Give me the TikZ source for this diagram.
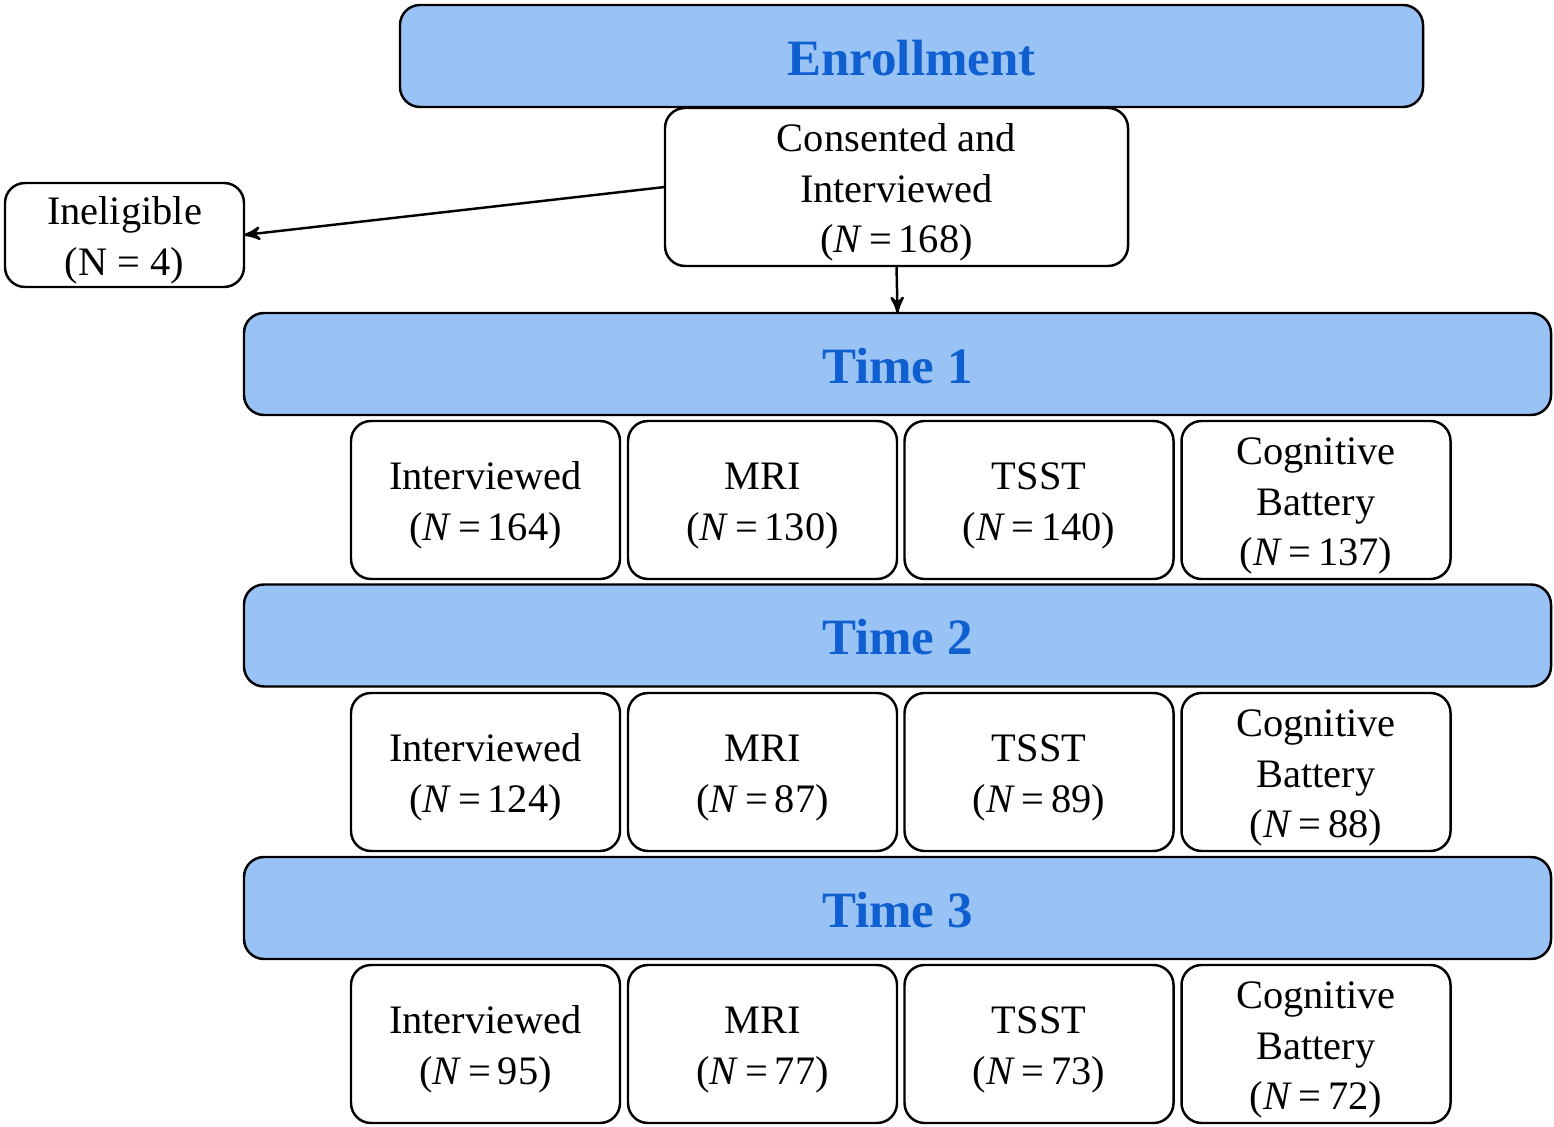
\documentclass[tikz,border=0pt]{standalone}
\usepackage{fontspec}
\setmainfont{Liberation Serif}
\usetikzlibrary{arrows}

\definecolor{barblue}{HTML}{98C3F4}
\definecolor{titleblue}{HTML}{0F5FD0}
\newcommand{\nval}[1]{(\textit{N}\,=\,#1)}
\newcommand{\topstrut}{\rule{0pt}{11pt}}

\begin{document}
\begin{tikzpicture}[>=stealth',line width=0.7pt,
                    every node/.style={font=\fontsize{11.5}{14.3}\selectfont,align=center,inner sep=0pt,outer sep=0pt},
                    bar node/.style={rectangle,rounded corners=0.2cm,draw,fill=barblue,minimum height=1.02cm,
                                     text=titleblue,font=\fontsize{14.5}{17}\selectfont\bfseries},
                    box node/.style={rectangle,rounded corners=0.2cm,draw,fill=white,minimum width=2.69cm,minimum height=1.58cm}]
  \useasboundingbox (0,0) rectangle (15.54,-11.27);
  % enrollment
  \node[bar node,minimum width=10.23cm] (enroll) at (9.115,-0.56) {\topstrut Enrollment};
  \node[box node,minimum width=4.63cm] (consent) at (8.965,-1.87) {\topstrut Consented and\\Interviewed\\\nval{168}};
  \node[box node,minimum width=2.39cm,minimum height=1.04cm] (inelig) at (1.245,-2.35) {\topstrut Ineligible\\(N = 4)};
  % time points
  \node[bar node,minimum width=13.07cm] (time1) at (8.975,-3.64) {\topstrut Time 1};
  \node[bar node,minimum width=13.07cm] (time2) at (8.975,-6.355) {\topstrut Time 2};
  \node[bar node,minimum width=13.07cm] (time3) at (8.975,-9.08) {\topstrut Time 3};
  % time 1
  \node[box node] (int1) at (4.855,-5.00) {\topstrut Interviewed\\\nval{164}};
  \node[box node] (mri1) at (7.625,-5.00) {\topstrut MRI\\\nval{130}};
  \node[box node] (tsst1) at (10.39,-5.00) {\topstrut TSST\\\nval{140}};
  \node[box node] (cog1) at (13.16,-5.00) {\topstrut Cognitive\\Battery\\\nval{137}};
  % time 2
  \node[box node] (int2) at (4.855,-7.72) {\topstrut Interviewed\\\nval{124}};
  \node[box node] (mri2) at (7.625,-7.72) {\topstrut MRI\\\nval{87}};
  \node[box node] (tsst2) at (10.39,-7.72) {\topstrut TSST\\\nval{89}};
  \node[box node] (cog2) at (13.16,-7.72) {\topstrut Cognitive\\Battery\\\nval{88}};
  % time 3
  \node[box node] (int3) at (4.855,-10.44) {\topstrut Interviewed\\\nval{95}};
  \node[box node] (mri3) at (7.625,-10.44) {\topstrut MRI\\\nval{77}};
  \node[box node] (tsst3) at (10.39,-10.44) {\topstrut TSST\\\nval{73}};
  \node[box node] (cog3) at (13.16,-10.44) {\topstrut Cognitive\\Battery\\\nval{72}};
  \path[->]
    (consent.west) edge (inelig.east)
    (consent.south) edge (time1.north)
    ;
\end{tikzpicture}
\end{document}
